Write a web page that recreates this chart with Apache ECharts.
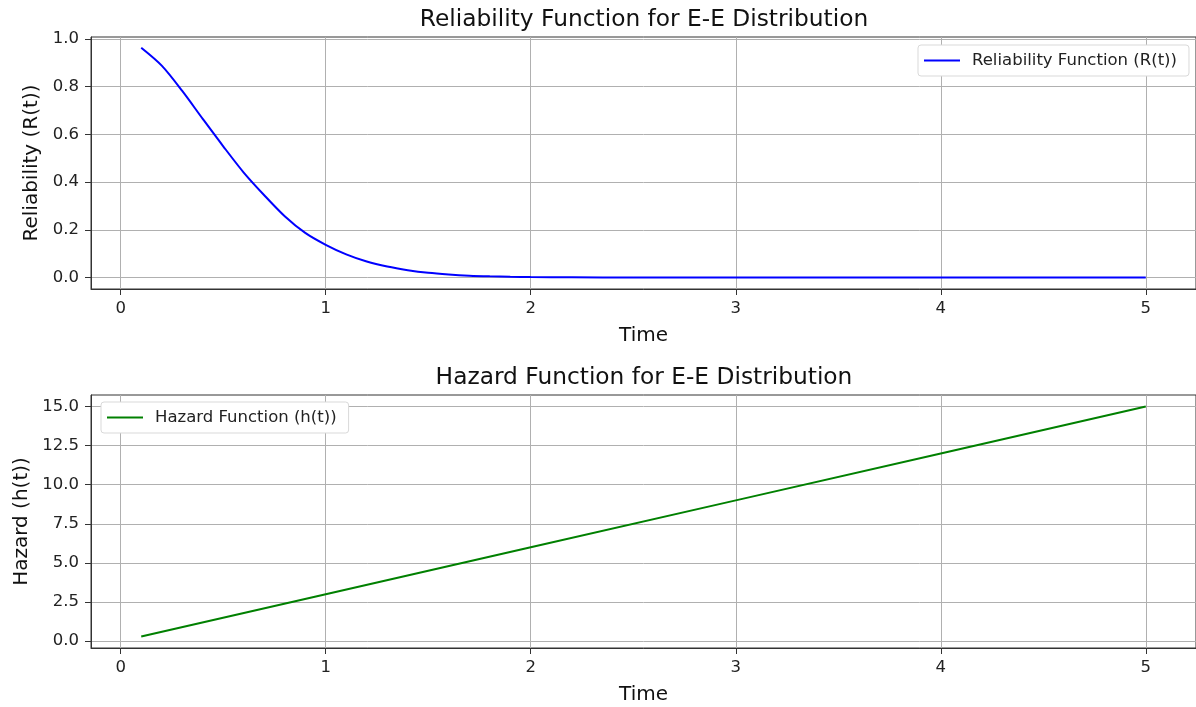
<!DOCTYPE html>
<html lang="en">
<head>
    <meta charset="UTF-8">
    <title>E-E Distribution</title>
    <script src="https://cdn.jsdelivr.net/npm/echarts@6/dist/echarts.min.js"></script>
    <style>
        * {
            margin: 0;
            padding: 0
        }

        html, body {
            width: 100%;
            height: 100%;
            background: #fff;
        }

        #main {
            width: 1196px;
            height: 707px;
        }
    </style>
</head>
<body>
    <div id="main"></div>
</body>
<script type="text/javascript">
    // values
    var relTime = [0.1, 0.2, 0.3, 0.4, 0.5, 0.6, 0.7, 0.8, 0.9, 1.0,
        1.1, 1.2, 1.3, 1.4, 1.5, 1.6, 1.7, 1.8, 1.9, 2.0,
        2.2, 2.5, 3.0, 3.5, 4.0, 4.5, 5.0];
    var relValues = [0.963, 0.888, 0.782, 0.665, 0.55, 0.44, 0.345, 0.257, 0.187, 0.137,
        0.097, 0.067, 0.046, 0.031, 0.02, 0.013, 0.008, 0.005, 0.003, 0.002,
        0.001, 0.0003, 0, 0, 0, 0, 0];
    var hazTime = [0.1, 1, 2, 3, 4, 5];
    var hazValues = [0.3, 3, 6, 9, 12, 15];

    var xTicks = [0, 1, 2, 3, 4, 5];
    var relTicks = [0, 0.2, 0.4, 0.6, 0.8, 1.0];
    var hazTicks = [0, 2.5, 5, 7.5, 10, 12.5, 15];

    var font = 'DejaVu Sans';

    function pairs(xs, ys) {
        return xs.map(function (x, i) { return [x, ys[i]]; });
    }

    function xAxisOpt(idx) {
        return {
            type: 'value',
            gridIndex: idx,
            min: -0.145,
            max: 5.245,
            name: 'Time',
            nameLocation: 'middle',
            nameGap: 37,
            nameTextStyle: {fontFamily: font, fontSize: 20, color: '#111'},
            axisLine: {show: true, onZero: false, lineStyle: {color: '#333', width: 1}},
            axisTick: {show: true, length: 6, customValues: xTicks, lineStyle: {color: '#333'}},
            axisLabel: {customValues: xTicks, fontFamily: font, fontSize: 16.5, color: '#222', margin: 11},
            splitLine: {show: true, lineStyle: {color: '#b0b0b0', width: 1}}
        };
    }

    function yAxisOpt(idx, min, max, ticks, name, gap) {
        return {
            type: 'value',
            gridIndex: idx,
            min: min,
            max: max,
            name: name,
            nameLocation: 'middle',
            nameGap: gap,
            nameTextStyle: {fontFamily: font, fontSize: 20, color: '#111'},
            axisLine: {show: true, onZero: false, lineStyle: {color: '#333', width: 1}},
            axisTick: {show: true, length: 6, customValues: ticks, lineStyle: {color: '#333'}},
            axisLabel: {
                customValues: ticks, fontFamily: font, fontSize: 16.5, color: '#222', margin: 12,
                formatter: function (v) { return v.toFixed(1); }
            },
            splitLine: {show: true, lineStyle: {color: '#b0b0b0', width: 1}}
        };
    }

    var legendBase = {
        icon: 'rect', itemWidth: 36, itemHeight: 2, itemGap: 10,
        padding: [7, 12, 7, 6], backgroundColor: '#fff', borderColor: '#d9d9d9', borderWidth: 1, borderRadius: 3,
        textStyle: {fontFamily: font, fontSize: 16.5, color: '#222', padding: [0, 0, 0, 7]}
    };

    var chart = echarts.init(document.getElementById('main'), null, {renderer: 'canvas'});
    chart.setOption({
        animation: false,
        backgroundColor: '#fff',
        title: [
            {text: 'Reliability Function for E-E Distribution', left: 644, top: 8, padding: 0, textAlign: 'center',
                textStyle: {fontFamily: font, fontSize: 23.3, fontWeight: 'normal', color: '#111'}},
            {text: 'Hazard Function for E-E Distribution', left: 644, top: 366, padding: 0, textAlign: 'center',
                textStyle: {fontFamily: font, fontSize: 23.3, fontWeight: 'normal', color: '#111'}}
        ],
        legend: [
            Object.assign({data: ['Reliability Function (R(t))'], left: 918, top: 45}, legendBase),
            Object.assign({data: ['Hazard Function (h(t))'], left: 101, top: 402}, legendBase)
        ],
        grid: [
            {left: 91, top: 37, width: 1108, height: 252, show: true, borderColor: '#333', borderWidth: 1, backgroundColor: 'transparent'},
            {left: 91, top: 395, width: 1108, height: 253, show: true, borderColor: '#333', borderWidth: 1, backgroundColor: 'transparent'}
        ],
        xAxis: [xAxisOpt(0), xAxisOpt(1)],
        yAxis: [
            yAxisOpt(0, -0.048, 1.008, relTicks, 'Reliability (R(t))', 44),
            yAxisOpt(1, -0.435, 15.735, hazTicks, 'Hazard (h(t))', 56)
        ],
        series: [
            {name: 'Reliability Function (R(t))', type: 'line', xAxisIndex: 0, yAxisIndex: 0,
                data: pairs(relTime, relValues), smooth: 0.3, showSymbol: false, symbol: 'none',
                color: '#0000ff', lineStyle: {color: '#0000ff', width: 2}},
            {name: 'Hazard Function (h(t))', type: 'line', xAxisIndex: 1, yAxisIndex: 1,
                data: pairs(hazTime, hazValues), showSymbol: false, symbol: 'none',
                color: '#008000', lineStyle: {color: '#008000', width: 2}}
        ]
    });
</script>
</html>
